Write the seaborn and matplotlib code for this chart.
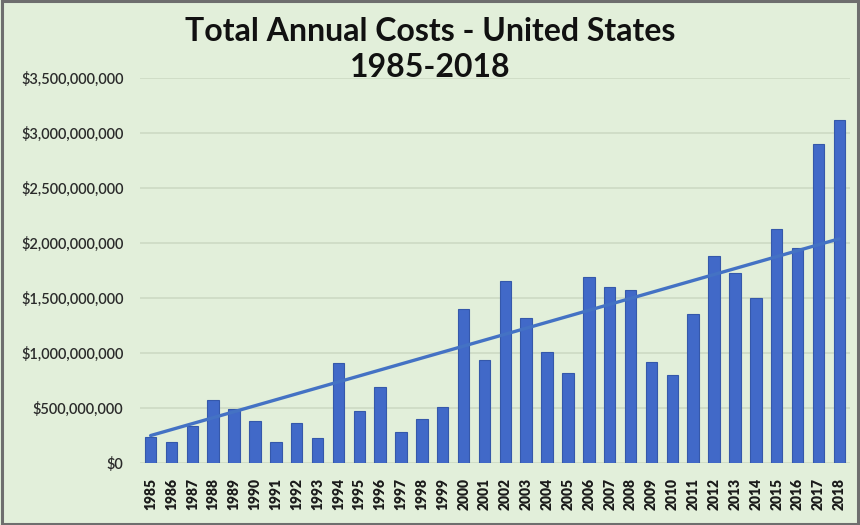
import numpy as np
import pandas as pd
import matplotlib
matplotlib.use("Agg")
import matplotlib.pyplot as plt
import seaborn as sns
from matplotlib.ticker import FuncFormatter

years = [str(y) for y in range(1985, 2019)]
costs_billion = [0.24, 0.19, 0.34, 0.57, 0.49, 0.38, 0.19, 0.36, 0.23, 0.91,
                 0.47, 0.69, 0.28, 0.40, 0.51, 1.40, 0.94, 1.66, 1.32, 1.01,
                 0.82, 1.69, 1.60, 1.57, 0.92, 0.80, 1.36, 1.88, 1.73, 1.50,
                 2.13, 1.96, 2.90, 3.12]
# trendline endpoints as drawn in the chart (first and last year)
trend_years = ["1985", "2018"]
trend_billion = [0.25, 2.04]
title_text = "Total Annual Costs - United States\n1985-2018"

costs = np.array(costs_billion) * 1e9
df = pd.DataFrame({"year": years, "cost": costs})
trend_df = pd.DataFrame({"pos": [years.index(y) for y in trend_years],
                         "cost": np.array(trend_billion) * 1e9})

sns.set_theme(style="white")
plt.rcParams['font.family'] = ['Lato', 'DejaVu Sans']

bg = "#e2efda"
bar_color = "#4169c8"

fig = plt.figure(figsize=(8.6, 5.25), dpi=100, facecolor=bg)
ax = fig.add_axes([0.163, 0.118, 0.825, 0.733])
ax.set_facecolor(bg)

sns.barplot(data=df, x="year", y="cost", color=bar_color, width=0.55,
            saturation=1, ax=ax, zorder=3)
for p in ax.patches:
    p.set_edgecolor("#3558aa")
    p.set_linewidth(0.8)

sns.lineplot(data=trend_df, x="pos", y="cost", color="#4472c4",
             linewidth=2.4, ax=ax, zorder=4)

ax.set_ylim(0, 3.5e9)
ax.set_xlim(-0.5, len(years) - 0.5)
ax.set_yticks(np.arange(0, 3.5e9 + 1, 5e8))
ax.yaxis.set_major_formatter(FuncFormatter(lambda v, p: f"${v:,.0f}"))
ax.grid(axis="y", color="#cddac4", linewidth=1.2, zorder=0)
ax.set_axisbelow(True)
for s in ax.spines.values():
    s.set_visible(False)
ax.set_xlabel("")
ax.set_ylabel("")
ax.tick_params(axis="y", length=0, pad=12, labelsize=10.5, labelcolor="#2a2a2a")
for lbl in ax.get_yticklabels():
    lbl.set_fontweight("semibold")
ax.set_xticks(range(len(years)))
ax.set_xticklabels(years, rotation=90, fontweight="heavy")
ax.tick_params(axis="x", length=0, pad=11, labelsize=10, labelcolor="#1a1a1a")

fig.text(0.5, 0.968, title_text, ha="center", va="top", fontsize=23,
         fontweight="bold", color="#111111", linespacing=1.3)

border = plt.Rectangle((0.002, 0.002), 0.996, 0.996, transform=fig.transFigure,
                       fill=False, edgecolor="#6e6e6e", linewidth=2.2)
fig.patches.append(border)

fig.savefig("out.png", dpi=100, facecolor=bg)
